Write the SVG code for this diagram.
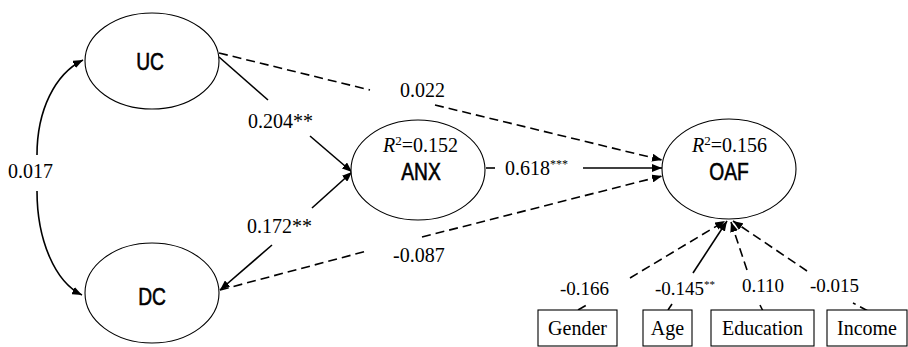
<svg xmlns="http://www.w3.org/2000/svg" width="908" height="347" viewBox="0 0 908 347">
<style>
.node{fill:#fff;stroke:#000;stroke-width:1.1}
.lat{font-family:"Liberation Sans",Arial,sans-serif;font-size:24px;text-anchor:middle;fill:#000;stroke:#000;stroke-width:0.6}
.num{font-family:"Liberation Serif","Times New Roman",serif;font-size:20px;fill:#000}
.sm{font-family:"Liberation Serif","Times New Roman",serif;font-size:19px;fill:#000}
.box{font-family:"Liberation Serif","Times New Roman",serif;font-size:20px;text-anchor:middle;fill:#000}
.ln{fill:none;stroke:#000;stroke-width:1.6}
.ds{fill:none;stroke:#000;stroke-width:1.6;stroke-dasharray:9 5}
</style>
<defs>
<marker id="ah" markerUnits="userSpaceOnUse" markerWidth="10" markerHeight="8" refX="10" refY="4" orient="auto-start-reverse">
<path d="M0,0 L10,4 L0,8 Z" fill="#000"/>
</marker>
</defs>
<g id="connectors">
<path class="ln" d="M37,155 C37,110 55,74 83,60" marker-end="url(#ah)"/>
<path class="ln" d="M37,191 C37,240 55,282 82,295" marker-end="url(#ah)"/>
<line class="ln" x1="219" y1="57" x2="268" y2="100"/>
<line class="ln" x1="310" y1="136" x2="352" y2="172" marker-end="url(#ah)"/>
<line class="ln" x1="220" y1="290" x2="272" y2="245" marker-start="url(#ah)"/>
<line class="ln" x1="312" y1="208" x2="352" y2="172" marker-end="url(#ah)"/>
<line class="ds" x1="219" y1="53" x2="370" y2="90"/>
<line class="ds" x1="435" y1="105" x2="662" y2="160" marker-end="url(#ah)"/>
<line class="ds" x1="220" y1="290" x2="367" y2="251"/>
<line class="ds" x1="422" y1="237" x2="662" y2="176" marker-end="url(#ah)"/>
<line class="ln" x1="486" y1="168" x2="495" y2="168"/>
<line class="ln" x1="583" y1="168" x2="662" y2="168" marker-end="url(#ah)"/>
<line class="ds" x1="578" y1="310" x2="590" y2="303"/>
<line class="ds" x1="630" y1="278" x2="725" y2="221" marker-end="url(#ah)"/>
<line class="ln" x1="668" y1="310" x2="672" y2="304"/>
<line class="ln" x1="693" y1="273" x2="727" y2="221" marker-end="url(#ah)"/>
<line class="ds" x1="763" y1="311" x2="760" y2="305"/>
<line class="ds" x1="747" y1="270" x2="731" y2="222" marker-end="url(#ah)"/>
<line class="ds" x1="868" y1="311" x2="853" y2="303"/>
<line class="ds" x1="807" y1="271" x2="733" y2="221" marker-end="url(#ah)"/>
</g>
<g id="labels">
<text class="num" x="8" y="178">0.017</text>
<text class="num" x="248" y="128">0.204**</text>
<text class="num" x="247" y="233">0.172**</text>
<text class="num" x="400" y="97">0.022</text>
<text class="num" x="393" y="262">-0.087</text>
<text class="num" x="505" y="175">0.618<tspan font-size="12" dy="-7">***</tspan></text>
<text class="sm" x="560" y="295">-0.166</text>
<text class="sm" x="655" y="295">-0.145<tspan font-size="11" dy="-7">**</tspan></text>
<text class="sm" x="742" y="292">0.110</text>
<text class="sm" x="810" y="292">-0.015</text>
</g>
<g id="UC">
<ellipse class="node" cx="152" cy="61" rx="67" ry="48"/>
<text class="lat" transform="translate(150,70) scale(0.8,1)">UC</text>
</g>
<g id="DC">
<ellipse class="node" cx="152" cy="293" rx="67" ry="50"/>
<text class="lat" transform="translate(152,305) scale(0.8,1)">DC</text>
</g>
<g id="ANX">
<ellipse class="node" cx="418" cy="170" rx="67" ry="50"/>
<text class="num" x="383" y="152"><tspan font-style="italic">R</tspan><tspan font-size="13" dy="-7">2</tspan><tspan dy="7">=0.152</tspan></text>
<text class="lat" transform="translate(421,180) scale(0.8,1)">ANX</text>
</g>
<g id="OAF">
<ellipse class="node" cx="729" cy="169" rx="67" ry="50"/>
<text class="num" x="692" y="152"><tspan font-style="italic">R</tspan><tspan font-size="13" dy="-7">2</tspan><tspan dy="7">=0.156</tspan></text>
<text class="lat" transform="translate(729,180) scale(0.8,1)">OAF</text>
</g>
<g id="Gender">
<rect class="node" x="538" y="310" width="79" height="36"/>
<text class="box" x="577.5" y="335">Gender</text>
</g>
<g id="Age">
<rect class="node" x="643" y="310" width="49" height="36"/>
<text class="box" x="667.5" y="335">Age</text>
</g>
<g id="Education">
<rect class="node" x="711" y="310" width="103" height="36"/>
<text class="box" x="762.5" y="335">Education</text>
</g>
<g id="Income">
<rect class="node" x="827" y="310" width="80" height="36"/>
<text class="box" x="867" y="335">Income</text>
</g>
</svg>
